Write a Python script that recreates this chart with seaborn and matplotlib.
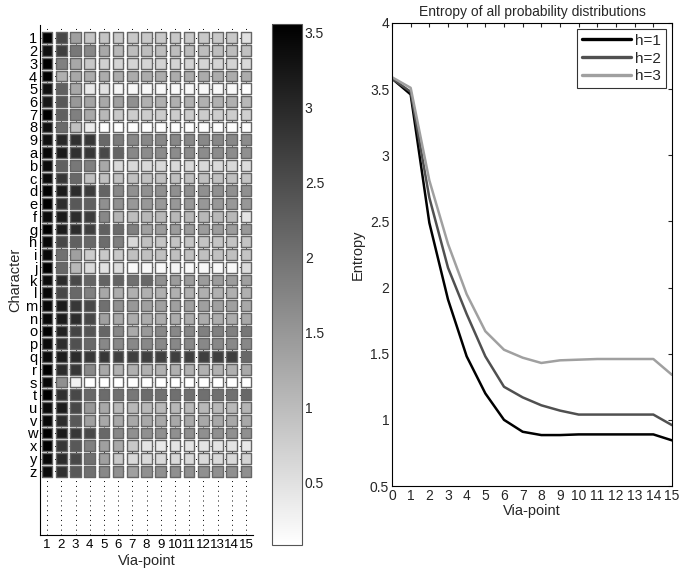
import numpy as np
import pandas as pd
import matplotlib
matplotlib.use("Agg")
import matplotlib.pyplot as plt
import seaborn as sns

# ---------------- data ----------------
characters = list("123456789abcdefghijklmnopqrstuvwxyz")
via_points = list(range(1, 16))

cell_entropy = [
    [3.56, 2.58, 1.38, 0.89, 0.89, 0.83, 0.83, 0.83, 0.83, 0.83, 0.83, 0.83, 0.83, 0.83, 0.50],  # 1
    [3.34, 2.69, 1.92, 1.70, 1.27, 1.05, 0.99, 0.99, 0.99, 0.99, 0.99, 0.99, 0.99, 0.99, 0.94],  # 2
    [3.56, 1.81, 1.27, 0.83, 0.72, 0.67, 0.67, 0.67, 0.67, 0.67, 0.67, 0.67, 0.67, 0.67, 0.61],  # 3
    [3.56, 1.16, 1.27, 1.21, 1.21, 1.21, 1.21, 1.21, 1.21, 1.21, 1.21, 1.21, 1.21, 1.21, 1.21],  # 4
    [3.34, 2.25, 1.27, 0.39, 0.50, 0.23, 0.18, 0.18, 0.18, 0.18, 0.18, 0.18, 0.18, 0.18, 0.08],  # 5
    [3.23, 2.36, 1.49, 1.32, 1.27, 1.38, 1.59, 1.16, 1.16, 1.16, 1.16, 1.16, 1.16, 1.16, 1.05],  # 6
    [3.56, 2.25, 1.81, 1.27, 1.05, 0.83, 0.78, 0.78, 0.78, 0.78, 0.78, 0.78, 0.78, 0.78, 0.72],  # 7
    [3.34, 2.09, 0.94, 0.34, 0.12, 0.12, 0.12, 0.12, 0.12, 0.12, 0.12, 0.12, 0.12, 0.12, 0.12],  # 8
    [3.34, 3.01, 2.90, 2.80, 2.14, 1.87, 1.70, 1.70, 1.70, 1.70, 1.70, 1.70, 1.70, 1.70, 1.65],  # 9
    [3.45, 3.18, 2.90, 2.80, 2.58, 2.20, 1.70, 1.65, 1.65, 1.65, 1.65, 1.65, 1.65, 1.65, 1.59],  # a
    [3.40, 2.25, 1.92, 1.81, 1.27, 0.61, 0.61, 0.61, 0.61, 0.61, 0.61, 0.61, 0.61, 0.61, 0.56],  # b
    [3.40, 2.80, 2.14, 0.94, 0.94, 0.94, 0.94, 0.94, 0.94, 0.94, 0.94, 0.94, 0.94, 0.94, 0.89],  # c
    [3.56, 3.18, 2.96, 2.74, 2.20, 1.70, 1.59, 1.59, 1.59, 1.59, 1.59, 1.59, 1.59, 1.59, 1.59],  # d
    [3.56, 2.96, 2.36, 2.25, 1.59, 1.59, 1.49, 1.49, 1.49, 1.49, 1.49, 1.49, 1.49, 1.49, 1.49],  # e
    [3.40, 3.18, 2.96, 2.74, 1.70, 1.10, 0.99, 1.05, 1.05, 1.05, 1.05, 1.05, 1.05, 1.05, 0.45],  # f
    [3.56, 3.18, 2.96, 2.69, 2.25, 2.09, 1.81, 1.38, 1.43, 1.43, 1.43, 1.43, 1.43, 1.43, 1.49],  # g
    [3.45, 2.58, 2.25, 2.14, 2.09, 1.81, 0.61, 0.94, 0.89, 0.89, 0.89, 0.89, 0.89, 0.89, 0.89],  # h
    [3.45, 2.03, 1.38, 0.78, 0.83, 0.83, 0.94, 0.94, 0.94, 0.94, 0.94, 0.94, 0.94, 0.94, 0.89],  # i
    [3.56, 2.14, 1.05, 0.61, 0.50, 0.56, 0.15, 0.18, 0.18, 0.23, 0.18, 0.18, 0.18, 0.18, 0.56],  # j
    [3.40, 2.96, 2.58, 2.20, 2.20, 2.20, 2.03, 2.14, 1.59, 1.43, 1.43, 1.43, 1.43, 1.43, 1.38],  # k
    [3.45, 2.58, 2.14, 1.81, 1.27, 1.21, 1.16, 1.16, 1.16, 1.16, 1.16, 1.16, 1.16, 1.16, 1.16],  # l
    [3.45, 3.18, 2.80, 2.58, 2.03, 1.59, 1.49, 1.38, 1.38, 1.38, 1.38, 1.38, 1.38, 1.38, 1.27],  # m
    [3.45, 3.18, 2.96, 2.58, 1.38, 1.27, 1.21, 1.21, 1.21, 1.21, 1.21, 1.21, 1.21, 1.21, 1.27],  # n
    [3.56, 3.10, 2.63, 2.40, 2.17, 1.70, 1.24, 1.47, 1.70, 1.70, 1.70, 1.81, 1.81, 1.81, 1.94],  # o
    [3.40, 2.96, 2.47, 2.14, 1.70, 1.70, 1.70, 1.70, 1.70, 1.70, 1.70, 1.70, 1.70, 1.70, 1.70],  # p
    [3.40, 3.18, 2.96, 2.80, 2.80, 2.69, 2.69, 2.69, 2.69, 2.69, 2.69, 2.69, 2.69, 2.69, 2.14],  # q
    [3.56, 2.96, 2.80, 1.70, 1.27, 1.16, 1.16, 1.16, 1.16, 1.16, 1.16, 1.16, 1.16, 1.16, 1.27],  # r
    [3.45, 1.59, 0.28, 0.08, 0.08, 0.08, 0.08, 0.08, 0.08, 0.08, 0.08, 0.08, 0.08, 0.08, 0.08],  # s
    [3.56, 2.90, 2.58, 2.14, 2.09, 2.03, 1.92, 2.09, 2.03, 2.03, 2.03, 2.03, 2.03, 2.03, 2.14],  # t
    [3.40, 3.18, 2.58, 1.49, 1.27, 1.05, 1.05, 1.05, 1.05, 1.05, 1.05, 1.05, 1.05, 1.05, 1.10],  # u
    [3.45, 2.96, 2.36, 1.38, 1.27, 1.27, 1.27, 1.27, 1.27, 1.27, 1.27, 1.27, 1.27, 1.27, 1.27],  # v
    [3.56, 3.18, 2.80, 2.58, 2.14, 1.70, 1.59, 1.59, 1.59, 1.59, 1.59, 1.59, 1.59, 1.59, 1.59],  # w
    [3.56, 2.80, 2.36, 1.81, 1.38, 1.27, 0.83, 0.45, 0.39, 0.45, 0.45, 0.45, 0.45, 0.45, 0.39],  # x
    [3.45, 2.96, 2.58, 2.03, 1.38, 0.83, 0.61, 0.61, 0.61, 0.61, 0.61, 0.61, 0.61, 0.61, 0.67],  # y
    [3.40, 2.90, 2.36, 2.03, 1.70, 1.59, 1.38, 1.59, 1.59, 1.59, 1.59, 1.59, 1.59, 1.59, 1.59],  # z
]

line_x = list(range(0, 16))
entropy_h1 = [3.58, 3.46, 2.49, 1.91, 1.48, 1.20, 1.00, 0.91, 0.885, 0.885, 0.89, 0.89, 0.89, 0.89, 0.89, 0.845]
entropy_h2 = [3.58, 3.48, 2.68, 2.15, 1.80, 1.48, 1.25, 1.17, 1.11, 1.07, 1.04, 1.04, 1.04, 1.04, 1.04, 0.96]
entropy_h3 = [3.59, 3.51, 2.81, 2.33, 1.95, 1.67, 1.53, 1.47, 1.43, 1.45, 1.455, 1.46, 1.46, 1.46, 1.46, 1.34]
series_names = ["h=1", "h=2", "h=3"]

# ---------------- style ----------------
sns.set_style("white")
plt.rcParams["font.family"] = ["Liberation Sans", "DejaVu Sans"]
plt.rcParams["xtick.direction"] = "in"
plt.rcParams["ytick.direction"] = "in"

vmin, vmax = 0.08, 3.56

fig = plt.figure(figsize=(6.8, 5.76), dpi=100)

# ---------------- left: scatter-heatmap ----------------
ax1 = fig.add_axes([40 / 680, 1 - 535 / 576, 213 / 680, 510 / 576])
rows = []
for ri, ch in enumerate(characters):
    for ci, vp in enumerate(via_points):
        rows.append({"via": vp, "row": ri + 1, "val": cell_entropy[ri][ci]})
df = pd.DataFrame(rows)
sns.scatterplot(data=df, x="via", y="row", hue="val", palette="gray_r",
                hue_norm=(vmin, vmax), marker="s", s=58, edgecolor="#666666",
                linewidth=1.0, legend=False, ax=ax1, zorder=3)
ax1.set_xlim(0.5, 15.5)
ax1.set_ylim(40, 0)
ax1.set_xticks(via_points)
ax1.set_xticklabels([str(v) for v in via_points], fontsize=9.5)
ax1.set_yticks(range(1, len(characters) + 1))
ax1.set_yticklabels(characters, fontsize=10.5)
ax1.tick_params(axis="both", length=2, pad=2, colors="black")
ax1.tick_params(axis="x", pad=3)
ax1.set_axisbelow(True)
ax1.grid(True, linestyle=(0, (1, 4)), color="black", linewidth=0.7)
for side in ["top", "right"]:
    ax1.spines[side].set_visible(False)
for side in ["left", "bottom"]:
    ax1.spines[side].set_color("black")
    ax1.spines[side].set_linewidth(0.8)
ax1.set_xlabel("Via-point", fontsize=10.5, labelpad=2)
ax1.set_ylabel("Character", fontsize=10.5, labelpad=2)

# colorbar
cax = fig.add_axes([272 / 680, 1 - 545 / 576, 30 / 680, 521 / 576])
sm = matplotlib.cm.ScalarMappable(norm=matplotlib.colors.Normalize(vmin, vmax), cmap="gray_r")
cb = fig.colorbar(sm, cax=cax)
cb.set_ticks([0.5, 1, 1.5, 2, 2.5, 3, 3.5])
cb.set_ticklabels(["0.5", "1", "1.5", "2", "2.5", "3", "3.5"])
cax.tick_params(labelsize=10, direction="in", length=3, left=True, right=True, pad=2)
cb.outline.set_edgecolor("#555555")
cb.outline.set_linewidth(0.8)

# ---------------- right: line plot ----------------
ax2 = fig.add_axes([392 / 680, 1 - 486 / 576, 280 / 680, 463 / 576])
ldf = pd.DataFrame({
    "Via-point": line_x * 3,
    "Entropy": entropy_h1 + entropy_h2 + entropy_h3,
    "h": [series_names[0]] * 16 + [series_names[1]] * 16 + [series_names[2]] * 16,
})
sns.lineplot(data=ldf, x="Via-point", y="Entropy", hue="h",
             palette=["#000000", "#505050", "#a0a0a0"], linewidth=1.8, ax=ax2)
ax2.set_xlim(0, 15)
ax2.set_ylim(0.5, 4)
ax2.set_xticks(line_x)
ax2.set_xticklabels([str(v) for v in line_x], fontsize=10)
ax2.set_yticks([0.5, 1, 1.5, 2, 2.5, 3, 3.5, 4])
ax2.set_yticklabels(["0.5", "1", "1.5", "2", "2.5", "3", "3.5", "4"], fontsize=10)
ax2.tick_params(axis="both", direction="in", length=3, top=True, right=True, pad=2)
for side in ax2.spines.values():
    side.set_color("black")
    side.set_linewidth(0.8)
ax2.set_xlabel("Via-point", fontsize=10.5, labelpad=1)
ax2.set_ylabel("Entropy", fontsize=10.5, labelpad=4)
ax2.set_title("Entropy of all probability distributions", fontsize=10, pad=5)
leg = ax2.legend(loc="upper right", fontsize=11, frameon=True, fancybox=False,
                 edgecolor="black", handlelength=3.2, borderaxespad=0.4,
                 labelspacing=0.25, handletextpad=0.3, borderpad=0.3)
leg.get_frame().set_linewidth(0.8)
for lh in leg.get_lines():
    lh.set_linewidth(2.4)

fig.savefig("out.png", dpi=100)
